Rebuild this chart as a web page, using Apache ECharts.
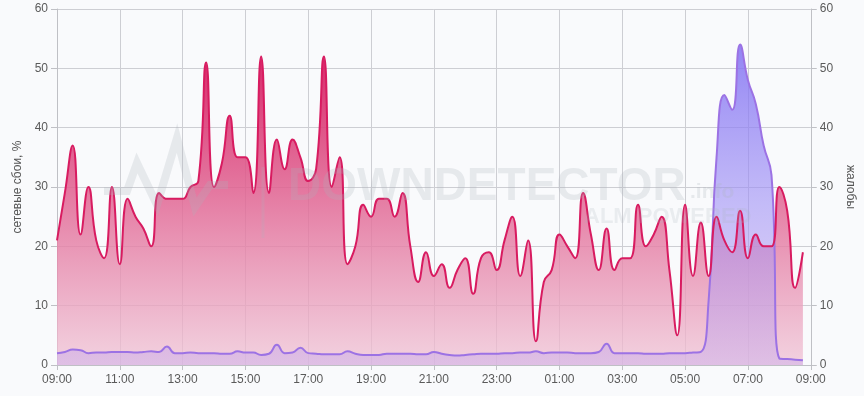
<!DOCTYPE html>
<html><head><meta charset="utf-8">
<script src="https://cdn.jsdelivr.net/npm/echarts@6/dist/echarts.min.js"></script>
<style>html,body{margin:0;padding:0;background:#f9fafc;}#c{width:864px;height:396px;}</style>
</head><body><div id="c"></div>
<script>
// time tick labels (every 2 hours, step = 8 quarter-hours)
const tickLabels = ["09:00","11:00","13:00","15:00","17:00","19:00","21:00","23:00","01:00","03:00","05:00","07:00","09:00"];
// network failures, % (every 15 min from 09:00 to 08:45)
const failures = [21,29,37,22,30,21,18,30,17,28,25,23,20,29,28,28,28,30,31,51,30,34,42,35,
  35,29,52,29,38,33,38,35,31,33,52,30,35,17,20,27,25,28,28,25,29,20,14,19,
  15,17,13,16,18,12,18,19,16,21,25,15,21,4,14,16,22,20,18,29,22,16,23,16,
  18,18,27,20,22,25,16,5,27,15,24,15,25,21,19,26,18,22,20,20,30,26,13,19];
// complaints (every 15 min)
const complaints = [2.0,2.2,2.6,2.5,2.0,2.1,2.1,2.2,2.2,2.2,2.1,2.2,2.3,2.2,3.1,2.0,2.0,2.1,2.0,2.0,2.0,1.9,1.9,2.3,
  2.1,2.1,1.7,1.9,3.4,2.0,2.1,2.9,2.0,1.9,1.8,1.8,1.8,2.3,1.9,1.7,1.7,1.7,1.9,1.9,1.9,1.9,1.8,1.8,
  2.2,1.9,1.7,1.6,1.7,1.8,1.9,1.9,1.9,2.0,2.0,2.1,2.1,2.3,2.0,2.1,2.1,2.1,2.0,2.0,2.0,2.2,3.6,2.0,
  2.0,2.0,2.0,1.9,1.9,1.9,2.0,2.0,2.0,2.1,2.2,11,35,45.5,43,54,48,44,37,32,1.1,1.0,0.9,0.8];
const leftName = "сетевые сбои, %";
const rightName = "жалобы";

const redData = failures.map((v,i)=>[i,v]);
const purpleData = complaints.map((v,i)=>[i,v]);

const chart = echarts.init(document.getElementById('c'), null, {renderer:'canvas'});
const FONT = '"Liberation Sans", Arial, sans-serif';
const axisLabelStyle = {color:'#5a5a5a', fontSize:12, fontFamily:FONT};
const gridLine = {lineStyle:{color:'#cdced3', width:1}};
const wm = 'rgba(170,178,190,0.24)';
chart.setOption({
  animation:false,
  backgroundColor:'#f9fafc',
  grid:{left:57, right:51, top:9, bottom:31},
  xAxis:{type:'value', min:0, max:96, interval:8,
    axisLine:{lineStyle:{color:'#bfc0c5'}},
    axisTick:{show:true, length:5, lineStyle:{color:'#bfc0c5'}},
    splitLine:{show:true, ...gridLine},
    axisLabel:{...axisLabelStyle, margin:9, formatter:(v)=>tickLabels[Math.round(v/8)]}},
  yAxis:[
    {type:'value', min:0, max:60, interval:10, position:'left',
     name:leftName, nameLocation:'middle', nameGap:33,
     nameTextStyle:{color:'#555', fontSize:12, fontFamily:FONT},
     axisLine:{show:true, lineStyle:{color:'#bfc0c5'}},
     axisTick:{show:true, length:6, lineStyle:{color:'#bfc0c5'}},
     splitLine:{show:true, ...gridLine},
     axisLabel:{...axisLabelStyle, margin:9}},
    {type:'value', min:0, max:60, interval:10, position:'right',
     name:rightName, nameLocation:'middle', nameGap:29, nameRotate:-90,
     nameTextStyle:{color:'#555', fontSize:12, fontFamily:FONT},
     axisLine:{show:true, lineStyle:{color:'#bfc0c5'}},
     axisTick:{show:true, length:6, lineStyle:{color:'#bfc0c5'}},
     splitLine:{show:false},
     axisLabel:{...axisLabelStyle, margin:9}}
  ],
  graphic:[
    {type:'polyline', z:100, silent:true,
     shape:{points:[[104,191],[127,191],[137,163],[157,205],[177,138],[195,207],[210,185],[228,185]]},
     style:{stroke:wm, lineWidth:8, fill:null, lineJoin:'miter'}},
    {type:'line', z:100, silent:true, shape:{x1:263,y1:167,x2:263,y2:238},
     style:{stroke:'rgba(170,178,190,0.2)', lineWidth:3}},
    {type:'text', z:100, silent:true, left:288, top:164,
     style:{text:'DOWNDETECTOR', font:'bold 46px ' + FONT, fill:wm}},
    {type:'text', z:100, silent:true, left:690, top:182,
     style:{text:'.info', font:'bold 21px ' + FONT, fill:wm}},
    {type:'text', z:100, silent:true, left:584, top:206,
     style:{text:'ALM POWERED', font:'bold 22px ' + FONT, fill:'rgba(170,178,190,0.2)'}}
  ],
  series:[
    {type:'line', name:'fill', data:redData, smooth:0.5, symbol:'none', z:2,
     lineStyle:{width:0},
     areaStyle:{opacity:1, color:new echarts.graphic.LinearGradient(0,0,0,1,[
        {offset:0, color:'rgba(214,30,98,0.95)'},
        {offset:0.45, color:'rgba(225,100,146,0.85)'},
        {offset:1, color:'rgba(240,196,214,0.75)'}])}},
    {type:'line', name:rightName, yAxisIndex:1, data:purpleData, smooth:0.5, symbol:'none', z:3,
     lineStyle:{width:2, color:'#9c72e4'},
     areaStyle:{opacity:1, color:new echarts.graphic.LinearGradient(0,0,0,1,[
        {offset:0, color:'rgba(128,112,242,0.85)'},
        {offset:0.5, color:'rgba(160,145,245,0.6)'},
        {offset:1, color:'rgba(200,170,235,0.45)'}])}},
    {type:'line', name:leftName, data:redData, smooth:0.5, symbol:'none', z:4,
     lineStyle:{width:2, color:'#d81b60'}}
  ]
});
</script></body></html>
